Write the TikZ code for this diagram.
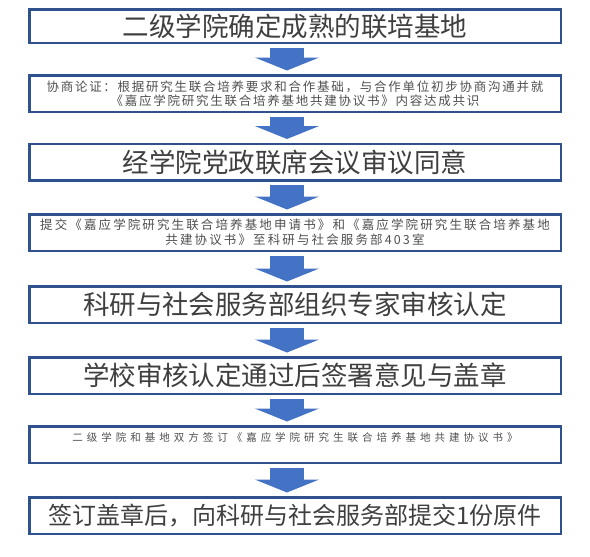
\documentclass[tikz,border=0pt]{standalone}
\usepackage{fontspec}
\setmainfont{Noto Sans CJK SC}
\newfontfamily\spacedA[LetterSpace=14]{Noto Sans CJK SC}
\newfontfamily\spacedB[LetterSpace=17]{Noto Sans CJK SC}
\newfontfamily\spacedC[LetterSpace=38]{Noto Sans CJK SC}
\usetikzlibrary{arrows.meta,positioning}
\definecolor{boxblue}{HTML}{2F528F}
\definecolor{arrowblue}{HTML}{4472C4}
\definecolor{bigtext}{HTML}{3F3F3F}
\definecolor{smalltext}{HTML}{505050}

\begin{document}
\begin{tikzpicture}[
  x=1pt, y=-1pt,
  box/.style={rectangle, draw=boxblue, line width=2.5pt, fill=white, minimum width=531.5pt, minimum height=36.5pt, inner sep=0pt, align=center},
  bigbox/.style={box, text=bigtext, font=\fontsize{26.5}{30}\selectfont},
  notebox/.style={box, text=smalltext},
  flow/.style={-{Triangle[width=64pt,length=13pt]}, line width=34pt, draw=arrowblue, shorten <=3.5pt, shorten >=3.5pt}
]
  \useasboundingbox[fill=white] (0,0) rectangle (590,557);
  \node[bigbox, minimum height=33.5pt] (found) at (295,26) {二级学院确定成熟的联培基地};
  \node[notebox, font=\spacedA\fontsize{12.5}{14.5}\selectfont] (consult) at (295,93.5) {协商论证：根据研究生联合培养要求和合作基础，与合作单位初步协商沟通并就\\《嘉应学院研究生联合培养基地共建协议书》内容达成共识};
  \node[bigbox] (meeting) at (295,162) {经学院党政联席会议审议同意};
  \node[notebox, font=\spacedB\fontsize{12.5}{15}\selectfont] (submit) at (295,232.5) {提交《嘉应学院研究生联合培养基地申请书》和《嘉应学院研究生联合培养基地\\共建协议书》至科研与社会服务部403室};
  \node[bigbox] (review) at (295,304.5) {科研与社会服务部组织专家审核认定};
  \node[bigbox] (approve) at (295,375.5) {学校审核认定通过后签署意见与盖章};
  \node[notebox, font=\spacedC\fontsize{10.5}{14}\selectfont] (sign) at (295,444.5) {二级学院和基地双方签订《嘉应学院研究生联合培养基地共建协议书》\\ \mbox{}};
  \node[bigbox, font=\fontsize{24}{28}\selectfont] (deliver) at (295,515.5) {签订盖章后，向科研与社会服务部提交1份原件};
  \draw[flow] ([xshift=-8pt]found.south) -- ([xshift=-8pt]consult.north);
  \draw[flow] ([xshift=-8pt]consult.south) -- ([xshift=-8pt]meeting.north);
  \draw[flow] ([xshift=-8pt]meeting.south) -- ([xshift=-8pt]submit.north);
  \draw[flow] ([xshift=-8pt]submit.south) -- ([xshift=-8pt]review.north);
  \draw[flow] ([xshift=-8pt]review.south) -- ([xshift=-8pt]approve.north);
  \draw[flow] ([xshift=-8pt]approve.south) -- ([xshift=-8pt]sign.north);
  \draw[flow] ([xshift=-8pt]sign.south) -- ([xshift=-8pt]deliver.north);
\end{tikzpicture}
\end{document}
